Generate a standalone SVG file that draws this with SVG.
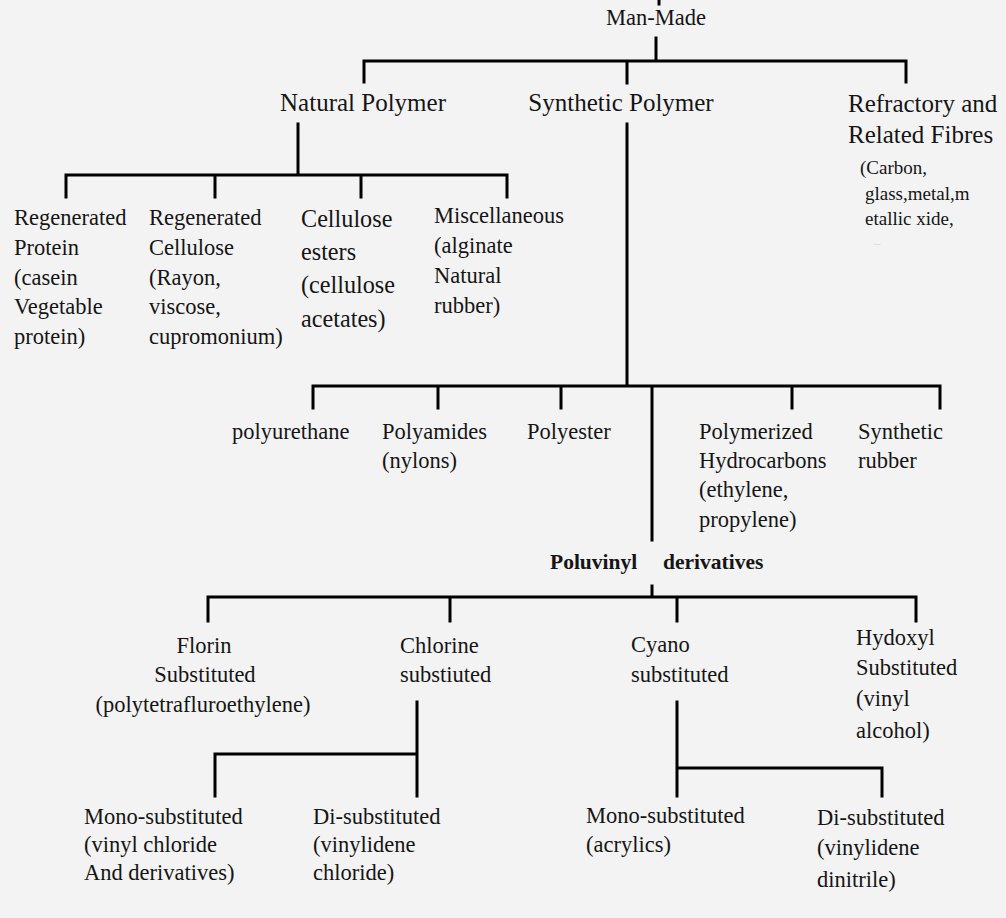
<svg xmlns="http://www.w3.org/2000/svg" width="1006" height="918" viewBox="0 0 1006 918">
<style>
.bg{fill:#f3f3f3}
text{font-family:'Liberation Serif','Tinos','DejaVu Serif',serif;fill:#151515;font-size:22.5px}
.h{font-size:25px}
.lg{font-size:24.2px}
.sm{font-size:19px}
.b{font-weight:bold;font-size:21.5px}
.c{text-anchor:middle}
.ln{stroke:#000;stroke-width:3;fill:none;stroke-linecap:square}
</style>
<rect class="bg" width="1006" height="918"/>
<g id="connectors" class="ln">
<path d="M659,0V4"/>
<path d="M656,38V61M364,61H906M364,61V82M627,61V83M906,61V82"/>
<path d="M298,124V175M66,175H507M66,175V197M215,175V197M361,175V197M507,175V197"/>
<path d="M627,124V386M313,386H940M313,386V408M438,386V408M561,386V408M792,386V408M940,386V408M652,386V540"/>
<path d="M652,586V597M208,597H916M208,597V621M450,597V621M677,597V621M916,597V621"/>
<path d="M417,702V796M215,754H417M215,754V796"/>
<path d="M677,702V796M677,768H882V796"/>
</g>
<g id="man-made"><text class="c" x="656" y="25">Man-Made</text></g>
<g id="natural-polymer"><text class="c h" x="363" y="111">Natural Polymer</text></g>
<g id="synthetic-polymer"><text class="c h" x="621" y="111">Synthetic Polymer</text></g>
<g id="refractory"><text class="h" x="848" y="112">Refractory and</text><text class="h" x="848" y="143">Related Fibres</text>
<text class="sm" x="860" y="174">(Carbon,</text><text class="sm" x="865" y="200">glass,metal,m</text><text class="sm" x="865" y="225">etallic xide,</text><text x="874" y="245" style="fill:#bbb;font-size:9px">...</text></g>
<g id="regenerated-protein"><text x="14" y="225">Regenerated</text><text x="14" y="255">Protein</text><text x="14" y="285">(casein</text><text x="14" y="314">Vegetable</text><text x="14" y="344">protein)</text></g>
<g id="regenerated-cellulose"><text x="149" y="225">Regenerated</text><text x="149" y="255">Cellulose</text><text x="149" y="285">(Rayon,</text><text x="149" y="314">viscose,</text><text x="149" y="344">cupromonium)</text></g>
<g id="cellulose-esters"><text class="lg" x="301" y="227">Cellulose</text><text class="lg" x="301" y="260">esters</text><text class="lg" x="301" y="293">(cellulose</text><text class="lg" x="301" y="327">acetates)</text></g>
<g id="miscellaneous"><text x="434" y="223">Miscellaneous</text><text x="434" y="253">(alginate</text><text x="434" y="283">Natural</text><text x="434" y="313">rubber)</text></g>
<g id="polyurethane"><text x="232" y="439">polyurethane</text></g>
<g id="polyamides"><text x="382" y="439">Polyamides</text><text x="382" y="468">(nylons)</text></g>
<g id="polyester"><text x="527" y="439">Polyester</text></g>
<g id="polymerized-hydrocarbons"><text x="699" y="439">Polymerized</text><text x="699" y="468">Hydrocarbons</text><text x="699" y="497">(ethylene,</text><text x="699" y="527">propylene)</text></g>
<g id="synthetic-rubber"><text x="858" y="439">Synthetic</text><text x="858" y="468">rubber</text></g>
<g id="polyvinyl"><text class="b" x="550" y="569">Poluvinyl</text><text class="b" x="663" y="569">derivatives</text></g>
<g id="florin"><text class="c" x="204" y="653">Florin</text><text class="c" x="205" y="682">Substituted</text><text class="c" x="203" y="712">(polytetrafluroethylene)</text></g>
<g id="chlorine"><text x="400" y="653">Chlorine</text><text x="400" y="682">substiuted</text></g>
<g id="cyano"><text x="631" y="652">Cyano</text><text x="631" y="682">substituted</text></g>
<g id="hydoxyl"><text x="856" y="645">Hydoxyl</text><text x="856" y="675">Substituted</text><text x="856" y="706">(vinyl</text><text x="856" y="738">alcohol)</text></g>
<g id="mono-chlorine"><text x="84" y="824">Mono-substituted</text><text x="84" y="852">(vinyl chloride</text><text x="84" y="880">And derivatives)</text></g>
<g id="di-chlorine"><text x="313" y="824">Di-substituted</text><text x="313" y="852">(vinylidene</text><text x="313" y="880">chloride)</text></g>
<g id="mono-cyano"><text x="586" y="823">Mono-substituted</text><text x="586" y="852">(acrylics)</text></g>
<g id="di-cyano"><text x="817" y="825">Di-substituted</text><text x="817" y="855">(vinylidene</text><text x="817" y="887">dinitrile)</text></g>
</svg>
